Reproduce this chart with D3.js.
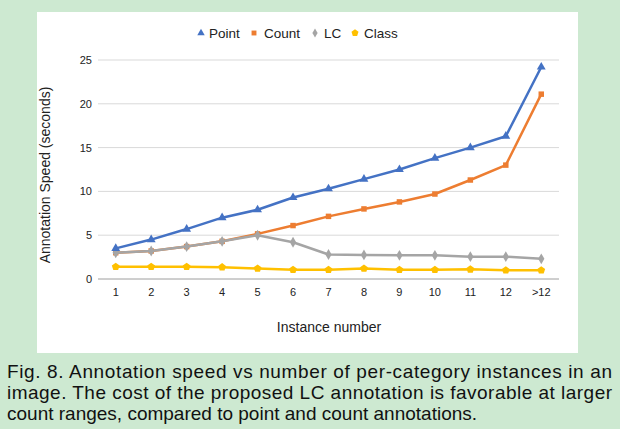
<!DOCTYPE html>
<html><head><meta charset="utf-8">
<script src="https://cdn.jsdelivr.net/npm/d3@7"></script>
<style>body{margin:0;background:#cde9d1;}svg{display:block;}</style>
</head><body>
<svg id="c" width="620" height="429"></svg>
<script>
const categories = ["1","2","3","4","5","6","7","8","9","10","11","12",">12"];
const pointVals = [3.5,4.5,5.7,7.0,7.9,9.3,10.3,11.4,12.5,13.8,15.0,16.3,24.2];
const countVals = [3.0,3.2,3.7,4.3,5.15,6.1,7.15,8.0,8.8,9.7,11.3,13.0,21.1];
const lcVals = [3.0,3.2,3.7,4.3,5.0,4.2,2.8,2.75,2.7,2.7,2.55,2.55,2.3];
const classVals = [1.4,1.4,1.4,1.35,1.2,1.05,1.05,1.2,1.05,1.05,1.1,1.0,1.0];
const yTicks = [0,5,10,15,20,25];
const seriesNames = ["Point","Count","LC","Class"];
const colors = ["#4472c4","#ed7d31","#a5a5a5","#ffc000"];
const pentagon = {draw(ctx,size){
  const r = Math.sqrt(size/2.378);
  for(let i=0;i<5;i++){
    const a = -Math.PI/2 + i*2*Math.PI/5;
    const px = r*Math.cos(a), py = r*Math.sin(a);
    if(i===0) ctx.moveTo(px,py); else ctx.lineTo(px,py);
  }
  ctx.closePath();
}};
const symbols = [d3.symbolTriangle, d3.symbolSquare, d3.symbolDiamond, pentagon];
const captionLines = [
 "Fig. 8. Annotation speed vs number of per-category instances in an",
 "image. The cost of the proposed LC annotation is favorable at larger",
 "count ranges, compared to point and count annotations."];

const svg = d3.select("#c");
const font = "'Liberation Sans', Arial, sans-serif";
svg.append("rect").attr("x",37).attr("y",12).attr("width",541).attr("height",341).attr("fill","#fff");

const x = d3.scalePoint().domain(categories).range([98,559]).padding(0.5);
const y = d3.scaleLinear().domain([0,25]).range([279,60]);

const g = svg.append("g");
g.selectAll("line.grid").data(yTicks).join("line")
 .attr("x1",98).attr("x2",559).attr("y1",d=>y(d)).attr("y2",d=>y(d))
 .attr("stroke",d=>d===0?"#9e9e9e":"#d9d9d9").attr("stroke-width",1);
g.selectAll("text.yt").data(yTicks).join("text")
 .attr("x",92).attr("y",d=>y(d)+4).attr("text-anchor","end")
 .attr("font-family",font).attr("font-size",11).attr("fill","#222").text(d=>d);
g.selectAll("text.xt").data(categories).join("text")
 .attr("x",d=>x(d)).attr("y",296).attr("text-anchor","middle")
 .attr("font-family",font).attr("font-size",11).attr("fill","#222").text(d=>d);

const all = [pointVals,countVals,lcVals,classVals];
const line = d3.line().x((d,i)=>x(categories[i])).y(d=>y(d));
const order = [3,1,2,0];
const sizes = [34,30,34,40];
order.forEach(k=>{
  g.append("path").datum(all[k]).attr("d",line).attr("fill","none")
   .attr("stroke",colors[k]).attr("stroke-width",2.5).attr("stroke-linejoin","round");
  g.selectAll(null).data(all[k]).join("path")
   .attr("transform",(d,i)=>`translate(${x(categories[i])},${y(d)})`)
   .attr("d",d3.symbol().type(symbols[k]).size(sizes[k]))
   .attr("fill",colors[k]);
});

const legX = [201,254,315,355];
const txtX = [209,264,324,364];
seriesNames.forEach((n,k)=>{
  svg.append("path").attr("transform",`translate(${legX[k]},33)`)
   .attr("d",d3.symbol().type(symbols[k]).size(k===3?32:24)).attr("fill",colors[k]);
  svg.append("text").attr("x",txtX[k]).attr("y",38).attr("font-family",font)
   .attr("font-size",13.5).attr("fill","#222").text(n);
});

svg.append("text").attr("transform","translate(50,175) rotate(-90)")
 .attr("text-anchor","middle").attr("font-family",font).attr("font-size",14).attr("fill","#222")
 .text("Annotation Speed (seconds)");
svg.append("text").attr("x",329).attr("y",332).attr("text-anchor","middle")
 .attr("font-family",font).attr("font-size",14).attr("fill","#222").text("Instance number");

const capY = [378,399,420];
captionLines.forEach((t,i)=>{
  const tx = svg.append("text").attr("x",7).attr("y",capY[i]).attr("font-family",font)
   .attr("font-size",19).attr("fill","#111").text(t);
  if(i<2) tx.attr("textLength",605).attr("lengthAdjust","spacing");
});
</script>
</body></html>
